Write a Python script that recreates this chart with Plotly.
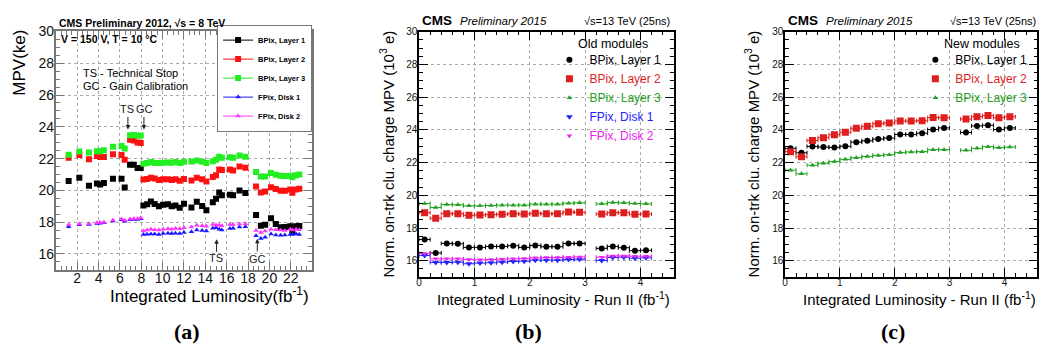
import plotly.graph_objects as go

# ---------------- Panel (a): 2012 data ----------------
lumi_a = [1.2, 2.2, 3.1, 3.85, 4.15, 4.5, 5.35, 6.15, 6.45, 6.95, 7.3, 7.65, 7.95,
          8.2, 8.55, 8.9, 9.25, 9.65, 10.05, 10.5, 10.85, 11.2, 11.6, 12.0, 12.7,
          13.2, 13.7, 14.1, 14.7, 15.0, 15.3, 15.55, 16.3, 16.6, 17.2, 17.75,
          18.75, 19.2, 19.6, 20.15, 20.6, 21.05, 21.45, 21.95, 22.15, 22.5, 22.8]
a_bpix1 = [20.59, 20.8, 20.29, 20.43, 20.37, 20.47, 20.73, 20.73, 20.18, 21.61, 21.61, 21.41, 21.41,
           19.05, 19.12, 19.3, 19.15, 19.0, 19.1, 19.12, 19.0, 19.05, 18.9, 19.16, 18.92,
           19.28, 19.02, 18.75, 19.26, 19.48, 19.87, 19.69, 19.73, 19.69, 19.99, 19.83,
           18.45, 17.78, 17.84, 18.24, 17.88, 17.68, 17.7, 17.75, 17.45, 17.74, 17.76]
a_bpix2 = [22.06, 22.22, 21.96, 22.16, 22.1, 22.1, 22.27, 22.22, 21.92, 23.18, 23.14, 23.02, 22.98,
           20.68, 20.72, 20.8, 20.75, 20.65, 20.7, 20.7, 20.65, 20.7, 20.6, 20.72, 20.62,
           20.8, 20.7, 20.56, 20.84, 20.95, 21.31, 21.29, 21.31, 21.25, 21.51, 21.43,
           20.24, 19.87, 19.93, 20.19, 20.09, 19.98, 19.98, 20.05, 19.85, 20.05, 20.1]
a_bpix3 = [22.25, 22.45, 22.38, 22.47, 22.47, 22.53, 22.75, 22.8, 22.63, 23.47, 23.48, 23.44, 23.45,
           21.68, 21.72, 21.78, 21.72, 21.72, 21.74, 21.76, 21.74, 21.78, 21.72, 21.8, 21.82,
           21.88, 21.8, 21.72, 21.84, 21.92, 22.12, 22.06, 22.08, 22.06, 22.2, 22.12,
           21.15, 20.88, 20.88, 21.09, 20.99, 20.92, 20.9, 20.92, 20.82, 20.95, 21.0]
a_fpix1 = [17.72, 17.84, 17.86, 17.92, 17.94, 17.96, 18.08, 18.15, 18.06, 18.15, 18.17, 18.17, 18.22,
           17.22, 17.24, 17.26, 17.25, 17.22, 17.28, 17.3, 17.28, 17.3, 17.28, 17.35, 17.4,
           17.5, 17.48, 17.45, 17.62, 17.65, 17.55, 17.5, 17.6, 17.62, 17.7, 17.72,
           17.15, 16.98, 17.05, 17.25, 17.2, 17.18, 17.2, 17.22, 17.22, 17.25, 17.22]
a_fpix2 = [17.84, 17.88, 17.9, 17.96, 17.98, 18.0, 18.12, 18.2, 18.12, 18.2, 18.22, 18.22, 18.28,
           17.45, 17.5, 17.55, 17.52, 17.5, 17.55, 17.58, 17.55, 17.6, 17.58, 17.65, 17.7,
           17.8, 17.78, 17.75, 17.85, 17.82, 17.8, 17.78, 17.85, 17.85, 17.88, 17.9,
           17.48, 17.35, 17.45, 17.55, 17.52, 17.5, 17.48, 17.55, 17.5, 17.55, 17.52]
a_xticks = [2, 4, 6, 8, 10, 12, 14, 16, 18, 20, 22]
a_yticks = [16, 18, 20, 22, 24, 26, 28, 30]

# ---------------- Panels (b), (c): 2015 data ----------------
lumi_bc = [0.1, 0.3, 0.5, 0.7, 0.9, 1.1, 1.3, 1.5, 1.7, 1.9, 2.1, 2.3, 2.5, 2.7, 2.9,
           3.3, 3.5, 3.7, 3.9, 4.1]
bin_half_width = 0.1
b_bpix1 = [17.3, 16.48, 17.06, 17.04, 16.82, 16.82, 16.88, 16.88, 16.92, 16.82, 16.94, 16.86, 16.86,
           17.06, 17.06, 16.76, 16.88, 16.8, 16.62, 16.64]
b_bpix2 = [18.94, 18.6, 18.88, 18.88, 18.78, 18.8, 18.82, 18.84, 18.88, 18.86, 18.9, 18.88, 18.88,
           18.98, 18.96, 18.86, 18.94, 18.94, 18.84, 18.86]
b_bpix3 = [19.5, 19.26, 19.44, 19.42, 19.36, 19.36, 19.38, 19.4, 19.4, 19.4, 19.46, 19.46, 19.46,
           19.52, 19.54, 19.48, 19.56, 19.54, 19.5, 19.48]
b_fpix1 = [16.32, 15.9, 15.9, 15.92, 15.82, 15.86, 15.88, 15.92, 15.96, 15.98, 16.04, 16.04, 16.04,
           16.08, 16.1, 16.02, 16.2, 16.22, 16.16, 16.18]
b_fpix2 = [16.45, 16.12, 16.12, 16.12, 16.08, 16.06, 16.08, 16.1, 16.12, 16.14, 16.18, 16.2, 16.2,
           16.22, 16.24, 16.22, 16.3, 16.3, 16.28, 16.28]
c_bpix1 = [22.87, 22.6, 22.99, 22.95, 22.93, 23.0, 23.25, 23.33, 23.44, 23.5, 23.72, 23.72, 23.8,
           24.02, 24.12, 23.84, 24.24, 24.28, 24.02, 24.12]
c_bpix2 = [22.67, 22.36, 23.35, 23.52, 23.7, 23.86, 24.1, 24.22, 24.38, 24.42, 24.54, 24.54, 24.56,
           24.75, 24.74, 24.66, 24.8, 24.87, 24.74, 24.8]
c_bpix3 = [21.54, 21.32, 21.84, 21.96, 22.06, 22.2, 22.3, 22.38, 22.44, 22.48, 22.61, 22.65, 22.67,
           22.79, 22.79, 22.75, 22.87, 22.97, 22.91, 22.95]
bc_xticks = [0, 1, 2, 3, 4]
bc_yticks = [16, 18, 20, 22, 24, 26, 28, 30]

W, H = 1042, 349
FONT = "Liberation Sans"


def px(x):
    return x / W


def py(y):
    return 1 - y / H


fig = go.Figure()


def add_a(vals, name, color, symbol, size):
    xs, ys = [], []
    for xv, yv in zip(lumi_a, vals):
        xs += [xv, None]
        ys += [yv, None]
    fig.add_trace(go.Scatter(
        x=xs, y=ys, mode="lines+markers", name=name, legend="legend",
        connectgaps=False, xaxis="x", yaxis="y",
        marker=dict(symbol=symbol, size=size, color=color, line=dict(width=0)),
        line=dict(color=color, width=1)))


add_a(a_bpix1, "BPix, Layer 1", "#000000", "square", 6)
add_a(a_bpix2, "BPix, Layer 2", "#ff1010", "square", 6)
add_a(a_bpix3, "BPix, Layer 3", "#22ee22", "square", 6)
add_a(a_fpix1, "FPix, Disk 1", "#1a1aff", "triangle-up", 5)
add_a(a_fpix2, "FPix, Disk 2", "#ff33ff", "triangle-up", 5)


def add_bc(vals, name, color, symbol, size, ax, leg):
    fig.add_trace(go.Scatter(
        x=lumi_bc, y=vals, mode="markers", legend=leg,
        name="<span style='color:%s'>%s</span>" % (color, name),
        xaxis="x" + ax, yaxis="y" + ax,
        marker=dict(symbol=symbol, size=size, color=color, line=dict(width=0)),
        error_x=dict(type="constant", value=bin_half_width, color=color, thickness=1, width=2)))


GREEN = "#22a022"
RED = "#dd1f1f"
BLUE = "#2222ff"
MAG = "#ee22ee"
add_bc(b_bpix1, "BPix, Layer 1", "#000000", "circle", 6, "2", "legend2")
add_bc(b_bpix2, "BPix, Layer 2", RED, "square", 7, "2", "legend2")
add_bc(b_bpix3, "BPix, Layer 3", GREEN, "triangle-up", 5, "2", "legend2")
add_bc(b_fpix1, "FPix, Disk 1", BLUE, "triangle-down", 6, "2", "legend2")
add_bc(b_fpix2, "FPix, Disk 2", MAG, "triangle-down", 5, "2", "legend2")
add_bc(c_bpix1, "BPix, Layer 1", "#000000", "circle", 6, "3", "legend3")
add_bc(c_bpix2, "BPix, Layer 2", RED, "square", 7, "3", "legend3")
add_bc(c_bpix3, "BPix, Layer 3", GREEN, "triangle-up", 5, "3", "legend3")


def xax(domain, rng, ticks, minor, col, lw, tl, font, anchor, standoff):
    return dict(domain=domain, range=rng, tickmode="array", tickvals=ticks,
                showgrid=True, griddash="dot", gridcolor="#aaaaaa", gridwidth=1,
                zeroline=False, showline=True, linecolor=col, linewidth=lw, mirror="ticks",
                ticks="inside", ticklen=tl, tickcolor=col, tickwidth=1,
                ticklabelstandoff=standoff,
                tickfont=dict(family=FONT, size=font, color="#111"), anchor=anchor,
                minor=dict(tickmode="linear", tick0=0, dtick=minor, ticks="inside",
                           ticklen=tl // 2, tickcolor=col, showgrid=False))


ya = (py(268), py(24))
ybc = (py(275.5), py(24.2))
fig.update_layout(
    width=W, height=H, margin=dict(l=0, r=0, t=0, b=0),
    paper_bgcolor="white", plot_bgcolor="white",
    xaxis=xax([px(53), px(310)], [0, 24], a_xticks, 0.5, "#777777", 2, 8, 14, "y", -6),
    yaxis=xax(list(ya), [15, 30], a_yticks, 0.5, "#777777", 2, 8, 14, "x", -3),
    xaxis2=xax([px(417.3), px(672.6)], [0, 4.6], bc_xticks, 0.2, "#000000", 1.5, 9, 10, "y2", -5),
    yaxis2=xax(list(ybc), [15, 30], bc_yticks, 0.5, "#000000", 1.5, 9, 10, "x2", -2),
    xaxis3=xax([px(784.3), px(1037.3)], [0, 4.6], bc_xticks, 0.2, "#000000", 1.5, 9, 10, "y3", -5),
    yaxis3=xax(list(ybc), [15, 30], bc_yticks, 0.5, "#000000", 1.5, 9, 10, "x3", -2),
    legend=dict(x=px(310), y=py(17), xanchor="right", yanchor="top",
                bgcolor="white", bordercolor="#777777", borderwidth=1,
                font=dict(family=FONT, size=7.5, color="#000", weight="bold"),
                itemwidth=30, tracegroupgap=0),
    legend2=dict(x=px(548), y=py(38), xanchor="left", yanchor="top",
                 bgcolor="rgba(0,0,0,0)", borderwidth=0,
                 font=dict(family=FONT, size=12, color="#000"), itemwidth=30),
    legend3=dict(x=px(915), y=py(38), xanchor="left", yanchor="top",
                 bgcolor="rgba(0,0,0,0)", borderwidth=0,
                 font=dict(family=FONT, size=12, color="#000"), itemwidth=30),
    showlegend=True,
)

ann = []


def txt(x, y, s, size, xanchor="left", color="#000", angle=0, bold=False, italic=False,
        family=FONT):
    ann.append(dict(x=px(x), y=py(y), xref="paper", yref="paper", text=s, showarrow=False,
                    xanchor=xanchor, yanchor="middle", textangle=angle,
                    font=dict(family=family, size=size, color=color,
                              weight="bold" if bold else "normal",
                              style="italic" if italic else "normal")))


# Panel (a) texts
txt(54, 15, "CMS Preliminary 2012, \u221As = 8 TeV", 10.5, bold=True)
txt(56, 32, "V = 150 V, T = 10 \u00b0C", 10.5, bold=True)
txt(78, 67, "TS - Technical Stop", 11)
txt(78, 80, "GC - Gain Calibration", 11)
txt(17, 56, "MPV(ke)", 17, xanchor="center", angle=-90)
txt(309, 294, "Integrated Luminosity(fb<sup>-1</sup>)", 17, xanchor="right")
txt(185, 331, "(a)", 22, xanchor="center", bold=True, family="Liberation Serif")

# arrows in panel (a): arrow-only annotations plus their labels
for xv, yv, dy in [(6.75, 23.83, -14), (8.25, 23.83, -14),
                   (15.05, 16.92, 14), (18.87, 16.95, 14)]:
    ann.append(dict(x=xv, y=yv, xref="x", yref="y", text="", showarrow=True,
                    ax=0, ay=dy, arrowhead=2, arrowsize=0.9, arrowwidth=1, arrowcolor="#222"))
txt(124, 103, "TS", 11, xanchor="center", color="#222")
txt(142, 103, "GC", 11, xanchor="center", color="#222")
txt(214, 256, "TS", 11, xanchor="center", color="#222")
txt(255, 257, "GC", 11, xanchor="center", color="#222")

# Panels (b), (c) texts
for x0, x1, title, yt_x, lab_x, lab, leg_x in [
        (417.3, 671, "Old modules", 385, 527, "(b)", 575),
        (784.3, 1038, "New modules", 751, 893, "(c)", 942)]:
    txt(x0 + 1, 13, "CMS", 13.5, bold=True)
    txt(x0 + 39, 13, "Preliminary 2015", 11.5, italic=True)
    txt(x1, 13, "\u221As=13 TeV (25ns)", 11, xanchor="right")
    txt(leg_x, 37, title, 12.5)
    txt(yt_x, 149, "Norm. on-trk clu. charge MPV (10<sup>3</sup> e)", 15, xanchor="center", angle=-90)
    txt(x1, 297, "Integrated Luminosity - Run II (fb<sup>-1</sup>)", 15, xanchor="right")
    txt(lab_x, 331, lab, 22, xanchor="center", bold=True, family="Liberation Serif")

fig.update_layout(annotations=ann)
fig.write_html("out.html")
